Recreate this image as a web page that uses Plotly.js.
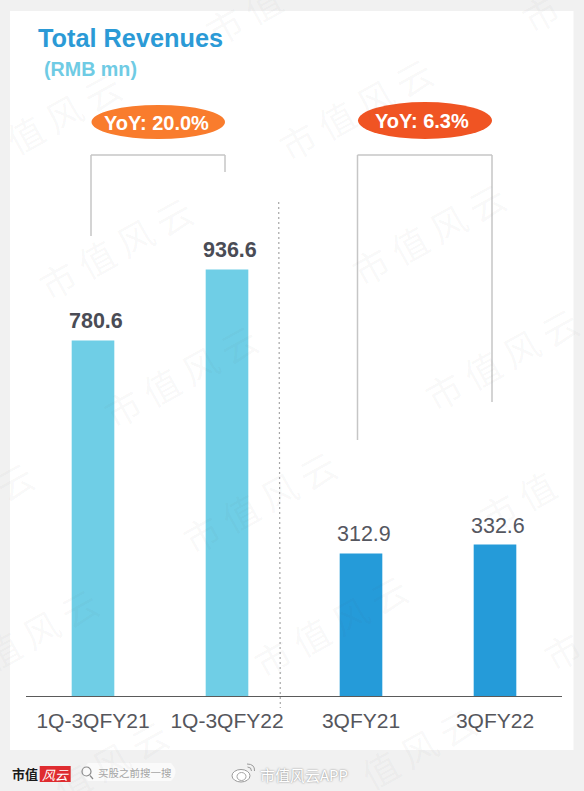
<!DOCTYPE html>
<html>
<head>
<meta charset="utf-8">
<script src="https://cdn.plot.ly/plotly-3.0.1.min.js"></script>
<style>html,body{margin:0;padding:0;background:#f1f1f1;overflow:hidden}</style>
</head>
<body>
<div id="chart" style="width:584px;height:791px"></div>
<script>
const categories = ['1Q-3QFY21', '1Q-3QFY22', '3QFY21', '3QFY22'];
const revenues = [780.6, 936.6, 312.9, 332.6];
const barColors = ['#6FCEE6', '#6FCEE6', '#259BD9', '#259BD9'];
const valueLabels = ['780.6', '936.6', '312.9', '332.6'];
const labelWeights = [true, true, false, false];
const yoyLabels = ['YoY: 20.0%', 'YoY: 6.3%'];
const titleText = 'Total Revenues';
const unitText = '(RMB mn)';
const watermarks = [
  ['市 值', 243, 14], ['值 风 云', 63, 112], ['市 值 风 云', 355, 108], ['市 值 风 云', 115, 247],
  ['市 值 风 云', 428, 233], ['市 值 风 云', 180, 375], ['市 值 风 云', 501, 358], ['云', 14, 480],
  ['市 值 风 云', 259, 501], ['市 值', 517, 500], ['值 风 云', 40, 628], ['市 值 风 云', 330, 625],
  ['市', 562, 650], ['值 风 云', 110, 760], ['值 风 云', 418, 747], ['市', 540, 12]
];

const W = 584, H = 791, L = 26, R = 562, B = 696;
const px = x => (x - L) / (R - L);
const py = y => (B - y) / B;
const sans = 'Liberation Sans, Arial, sans-serif';
const cjk = 'Noto Sans CJK SC, sans-serif';

function rect(x0, y0, x1, y1, fill, layer) {
  return {type:'rect', xref:'paper', yref:'paper', x0:px(x0), x1:px(x1), y0:py(y0), y1:py(y1),
          fillcolor:fill, line:{width:0}, layer:layer || 'below'};
}
function oval(x0, y0, x1, y1, fill, lineColor, lw) {
  return {type:'circle', xref:'paper', yref:'paper', x0:px(x0), x1:px(x1), y0:py(y0), y1:py(y1),
          fillcolor:fill, line:{width:lw || 0, color:lineColor || fill}, layer:'above'};
}
function seg(x0, y0, x1, y1, color, lw, dash) {
  return {type:'line', xref:'paper', yref:'paper', x0:px(x0), x1:px(x1), y0:py(y0), y1:py(y1),
          line:{color:color, width:lw, dash:dash || 'solid'}, layer:'above'};
}
function label(x, y, text, size, color, family, opts) {
  return Object.assign({xref:'paper', yref:'paper', x:px(x), y:py(y), text:text, showarrow:false,
    xanchor:'left', yanchor:'middle', font:{family:family || sans, size:size, color:color}}, opts || {});
}

const bracket = '#C6C6C6';
const shapes = [
  rect(10, 11, 573.5, 750, '#FFFFFF'),
  seg(91, 236, 91, 155, bracket, 1.5), seg(91, 155, 225, 155, bracket, 1.5), seg(225, 155, 225, 172, bracket, 1.5),
  seg(357.5, 440, 357.5, 155, bracket, 1.5), seg(357.5, 155, 492, 155, bracket, 1.5), seg(492, 155, 492, 402, bracket, 1.5),
  seg(278.7, 202, 280.3, 708, '#A6A6A6', 1.2, '2px,3px'),
  oval(91.5, 105, 225, 139, '#F97C2D'),
  oval(358, 102, 492, 139, '#F05423'),
  rect(39.7, 766, 70.7, 782, '#DF2C30', 'above'),
  {type:'path', xref:'paper', yref:'paper', layer:'above', fillcolor:'#FAFAFA', line:{width:0},
   path:`M ${px(88)} ${py(763)} L ${px(171)} ${py(763)} Q ${px(180)} ${py(772)} ${px(171)} ${py(781)} L ${px(88)} ${py(781)} Q ${px(79)} ${py(772)} ${px(88)} ${py(763)} Z`},
  oval(82, 767, 91, 776, 'rgba(0,0,0,0)', '#8A8A8A', 1.2),
  seg(90, 775.5, 93, 779, '#8A8A8A', 1.2),
  oval(232, 769.5, 250, 782, 'rgba(255,255,255,0.95)', '#9A9A9A', 1),
  oval(237, 772.5, 246, 780.5, 'rgba(0,0,0,0)', '#A5A5A5', 1),
  {type:'path', xref:'paper', yref:'paper', layer:'above', line:{color:'#9A9A9A', width:1},
   path:`M ${px(247)} ${py(764)} Q ${px(255)} ${py(764)} ${px(254.5)} ${py(771)} M ${px(247.5)} ${py(767)} Q ${px(251.5)} ${py(767)} ${px(251.5)} ${py(771)}`}
];

const annotations = [];
watermarks.forEach(m => annotations.push(label(m[1], m[2], m[0], 36, 'rgba(90,90,90,0.042)', cjk,
  {xanchor:'center', textangle:-29})));
annotations.push(
  label(36, 38, '<b>' + titleText + '</b>', 25.3, '#2B9AD6'),
  label(42, 68.5, '<b>' + unitText + '</b>', 19.7, '#6FCBE4'),
  label(156, 123, '<b>' + yoyLabels[0] + '</b>', 20, '#FFFFFF', sans, {xanchor:'center'}),
  label(422, 121, '<b>' + yoyLabels[1] + '</b>', 20, '#FFFFFF', sans, {xanchor:'center'}),
  label(10, 773, '<b>市值</b>', 13, '#1A1A1A', cjk),
  label(55.2, 774, '<i>风云</i>', 13, '#FFFFFF', cjk, {xanchor:'center'}),
  label(96, 772.5, '买股之前搜一搜', 10.5, '#A5A5A5', cjk),
  label(258, 775, '市值风云APP', 15, '#FFFFFF', cjk, {font:{family:cjk, size:15, color:'#FFFFFF', shadow:'0 0 2px #777777'}})
);
categories.forEach((c, i) => annotations.push({
  xref:'x', yref:'y', x:c, y:revenues[i], text:labelWeights[i] ? '<b>' + valueLabels[i] + '</b>' : valueLabels[i],
  showarrow:false, xanchor:'center', yanchor:'bottom', xshift:3, yshift:5,
  font:{family:sans, size:21.5, color:labelWeights[i] ? '#4A4C55' : '#55575F'}
}));

const trace = {
  type:'bar', x:categories, y:revenues, width:0.318,
  marker:{color:barColors, line:{width:0}},
  hoverinfo:'skip'
};

const layout = {
  width:W, height:H,
  margin:{l:L, r:W - R, t:0, b:H - B, pad:0},
  paper_bgcolor:'#F1F1F1', plot_bgcolor:'rgba(0,0,0,0)',
  showlegend:false,
  xaxis:{type:'category', categoryorder:'array', categoryarray:categories, range:[-0.5, 3.5],
    showline:true, linecolor:'#5A5A5A', linewidth:1.2, ticks:'', showgrid:false, zeroline:false,
    tickfont:{family:sans, size:21, color:'#55565C'}, ticklabelstandoff:6, automargin:false, fixedrange:true},
  yaxis:{range:[0, 1528], visible:false, showgrid:false, zeroline:false, fixedrange:true},
  shapes:shapes, annotations:annotations
};
Plotly.newPlot('chart', [trace], layout, {displayModeBar:false, staticPlot:true});
</script>
</body>
</html>
